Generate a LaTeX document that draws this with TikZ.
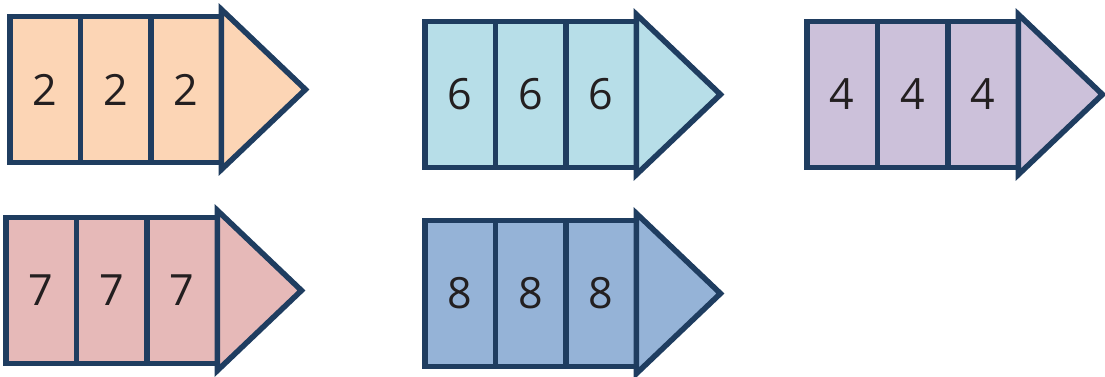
\documentclass[tikz,border=0pt]{standalone}
\usepackage{fontspec}
\setmainfont{Open Sans}
\usetikzlibrary{calc,positioning}
\definecolor{edge}{HTML}{1F3D60}
\definecolor{digit}{HTML}{231F20}
\definecolor{peach}{HTML}{FCD5B5}
\definecolor{sky}{HTML}{B7DEE8}
\definecolor{lilac}{HTML}{CCC1DA}
\definecolor{rose}{HTML}{E6B9B8}
\definecolor{steel}{HTML}{95B3D7}
\tikzset{
    chain diagram/.style = {x=0.02cm, y=0.02cm},
    cell/.style          = {draw=edge, line width=0.11cm, outer sep=0pt,
                            minimum width=1.41cm, minimum height=2.92cm,
                            inner sep=0pt, text=digit,
                            font=\fontsize{24.5}{28}\selectfont},
    tipbox/.style        = {draw=edge, line width=0.11cm, line join=miter}
}
\begin{document}
\begin{tikzpicture}[chain diagram]
\useasboundingbox (0,0) rectangle (1105,377);

% ================= Arrow of twos =================
\node[cell, fill=peach] (two1) at (45.25, 287.5) {2};
\node[cell, fill=peach, right=0pt of two1] (two2) {2};
\node[cell, fill=peach, right=0pt of two2] (two3) {2};
\draw[tipbox, fill=peach] ($(two3.north east)+(0,7)$) -- ($(two3.east)+(84,0)$)
    -- ($(two3.south east)+(0,-7)$) -- cycle;

% ================= Arrow of sixes =================
\node[cell, fill=sky] (six1) at (460.25, 282.5) {6};
\node[cell, fill=sky, right=0pt of six1] (six2) {6};
\node[cell, fill=sky, right=0pt of six2] (six3) {6};
\draw[tipbox, fill=sky] ($(six3.north east)+(0,7)$) -- ($(six3.east)+(84,0)$)
    -- ($(six3.south east)+(0,-7)$) -- cycle;

% ================= Arrow of fours =================
\node[cell, fill=lilac] (four1) at (842.25, 282.5) {4};
\node[cell, fill=lilac, right=0pt of four1] (four2) {4};
\node[cell, fill=lilac, right=0pt of four2] (four3) {4};
\draw[tipbox, fill=lilac] ($(four3.north east)+(0,7)$) -- ($(four3.east)+(84,0)$)
    -- ($(four3.south east)+(0,-7)$) -- cycle;

% ================= Arrow of sevens =================
\node[cell, fill=rose] (seven1) at (41.25, 86.5) {7};
\node[cell, fill=rose, right=0pt of seven1] (seven2) {7};
\node[cell, fill=rose, right=0pt of seven2] (seven3) {7};
\draw[tipbox, fill=rose] ($(seven3.north east)+(0,7)$) -- ($(seven3.east)+(84,0)$)
    -- ($(seven3.south east)+(0,-7)$) -- cycle;

% ================= Arrow of eights =================
\node[cell, fill=steel] (eight1) at (460.25, 83.5) {8};
\node[cell, fill=steel, right=0pt of eight1] (eight2) {8};
\node[cell, fill=steel, right=0pt of eight2] (eight3) {8};
\draw[tipbox, fill=steel] ($(eight3.north east)+(0,7)$) -- ($(eight3.east)+(84,0)$)
    -- ($(eight3.south east)+(0,-7)$) -- cycle;

\end{tikzpicture}
\end{document}
